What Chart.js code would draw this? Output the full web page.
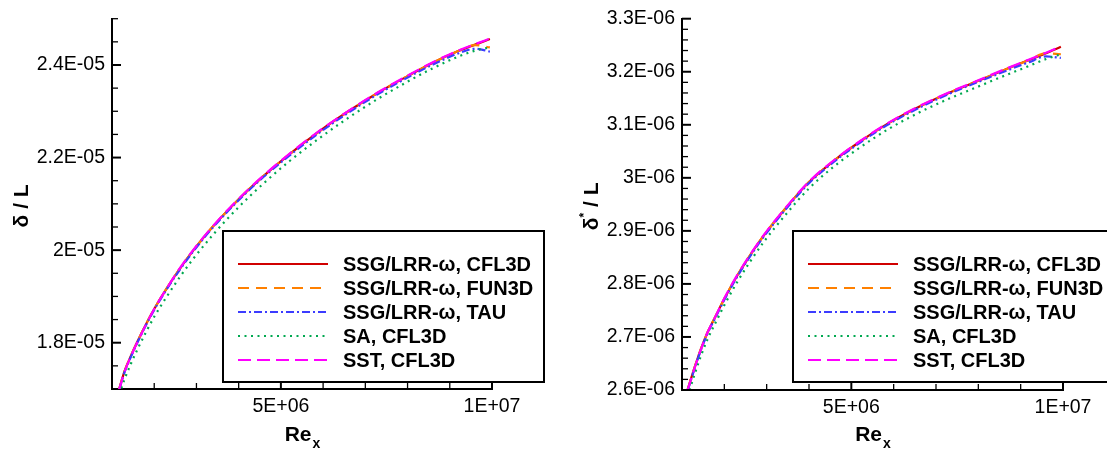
<!DOCTYPE html>
<html>
<head>
<meta charset="utf-8">
<script src="https://cdn.jsdelivr.net/npm/chart.js@4.4.1/dist/chart.umd.min.js"></script>
<style>
html, body { margin: 0; padding: 0; background: #fff; }
#wrap { position: relative; width: 1107px; height: 449px; overflow: hidden; }
canvas { position: absolute; top: 0; }
#deltaChart { left: 0; }
#dispChart { left: 553px; }
</style>
</head>
<body>
<div id="wrap">
    <canvas id="deltaChart" width="553" height="449"></canvas>
    <canvas id="dispChart" width="554" height="449"></canvas>
</div>
<script>
// Re_x stations
var reLeft  = [1.17e6, 1.3e6, 1.45e6, 1.6e6, 1.8e6, 2.0e6, 2.3e6, 2.6e6, 2.93e6, 3.4e6, 4.0e6, 4.6e6, 5.2e6, 5.9e6, 6.6e6, 7.3e6, 8.0e6, 8.6e6, 9.2e6, 9.6e6, 9.95e6];
var reRight = [1.13e6, 1.3e6, 1.45e6, 1.6e6, 1.8e6, 2.0e6, 2.3e6, 2.6e6, 2.93e6, 3.4e6, 4.0e6, 4.6e6, 5.2e6, 5.9e6, 6.6e6, 7.3e6, 8.0e6, 8.6e6, 9.2e6, 9.6e6, 9.95e6];

// delta / L
var deltaSsgCfl3d = [1.700e-5, 1.739e-5, 1.772e-5, 1.802e-5, 1.839e-5, 1.873e-5, 1.918e-5, 1.959e-5, 2.000e-5, 2.052e-5, 2.110e-5, 2.161e-5, 2.207e-5, 2.256e-5, 2.300e-5, 2.340e-5, 2.376e-5, 2.405e-5, 2.430e-5, 2.444e-5, 2.456e-5];
var deltaSsgFun3d = [1.700e-5, 1.739e-5, 1.772e-5, 1.802e-5, 1.839e-5, 1.873e-5, 1.918e-5, 1.959e-5, 2.000e-5, 2.052e-5, 2.110e-5, 2.161e-5, 2.207e-5, 2.256e-5, 2.300e-5, 2.340e-5, 2.376e-5, 2.405e-5, 2.430e-5, 2.443e-5, 2.438e-5];
var deltaSsgTau   = [1.698e-5, 1.737e-5, 1.770e-5, 1.800e-5, 1.837e-5, 1.871e-5, 1.916e-5, 1.957e-5, 1.998e-5, 2.050e-5, 2.108e-5, 2.159e-5, 2.204e-5, 2.253e-5, 2.297e-5, 2.337e-5, 2.373e-5, 2.401e-5, 2.425e-5, 2.435e-5, 2.429e-5];
var deltaSaCfl3d  = [1.688e-5, 1.722e-5, 1.755e-5, 1.785e-5, 1.822e-5, 1.856e-5, 1.900e-5, 1.941e-5, 1.982e-5, 2.034e-5, 2.093e-5, 2.145e-5, 2.192e-5, 2.241e-5, 2.286e-5, 2.327e-5, 2.364e-5, 2.393e-5, 2.418e-5, 2.431e-5, 2.438e-5];
var deltaSstCfl3d = [1.699e-5, 1.738e-5, 1.771e-5, 1.801e-5, 1.838e-5, 1.873e-5, 1.918e-5, 1.960e-5, 2.001e-5, 2.053e-5, 2.111e-5, 2.162e-5, 2.208e-5, 2.257e-5, 2.301e-5, 2.341e-5, 2.377e-5, 2.406e-5, 2.431e-5, 2.445e-5, 2.457e-5];

// delta* / L
var dispSsgCfl3d = [2.600e-6, 2.643e-6, 2.678e-6, 2.708e-6, 2.740e-6, 2.772e-6, 2.815e-6, 2.853e-6, 2.891e-6, 2.938e-6, 2.992e-6, 3.033e-6, 3.068e-6, 3.104e-6, 3.134e-6, 3.160e-6, 3.183e-6, 3.203e-6, 3.222e-6, 3.235e-6, 3.247e-6];
var dispSsgFun3d = [2.600e-6, 2.643e-6, 2.678e-6, 2.708e-6, 2.740e-6, 2.772e-6, 2.815e-6, 2.853e-6, 2.891e-6, 2.938e-6, 2.992e-6, 3.033e-6, 3.068e-6, 3.104e-6, 3.134e-6, 3.160e-6, 3.183e-6, 3.203e-6, 3.222e-6, 3.235e-6, 3.233e-6];
var dispSsgTau   = [2.598e-6, 2.641e-6, 2.676e-6, 2.706e-6, 2.738e-6, 2.770e-6, 2.813e-6, 2.851e-6, 2.889e-6, 2.936e-6, 2.990e-6, 3.031e-6, 3.066e-6, 3.102e-6, 3.132e-6, 3.158e-6, 3.181e-6, 3.200e-6, 3.218e-6, 3.229e-6, 3.226e-6];
var dispSaCfl3d  = [2.588e-6, 2.630e-6, 2.665e-6, 2.695e-6, 2.728e-6, 2.760e-6, 2.803e-6, 2.841e-6, 2.879e-6, 2.926e-6, 2.980e-6, 3.022e-6, 3.057e-6, 3.093e-6, 3.123e-6, 3.149e-6, 3.172e-6, 3.192e-6, 3.211e-6, 3.224e-6, 3.233e-6];
var dispSstCfl3d = [2.599e-6, 2.642e-6, 2.677e-6, 2.708e-6, 2.740e-6, 2.773e-6, 2.816e-6, 2.854e-6, 2.892e-6, 2.939e-6, 2.993e-6, 3.034e-6, 3.069e-6, 3.105e-6, 3.135e-6, 3.161e-6, 3.184e-6, 3.204e-6, 3.223e-6, 3.236e-6, 3.248e-6];

var seriesNames = ['SSG/LRR-\u03c9, CFL3D', 'SSG/LRR-\u03c9, FUN3D', 'SSG/LRR-\u03c9, TAU', 'SA, CFL3D', 'SST, CFL3D'];

var fontFamily = '"Liberation Sans", Arial, Helvetica, sans-serif';

var seriesStyle = [
    {color: '#d00000', dash: []},
    {color: '#ff8000', dash: [11, 7]},
    {color: '#3c3cff', dash: [8, 3, 2, 3]},
    {color: '#00a850', dash: [2, 4.5]},
    {color: '#ff00ff', dash: [13, 6]}
];

// Tecplot style labels: 2.4E-05, 1E+07
var sciLabel = function(v) {
    var e = Math.floor(Math.log10(Math.abs(v)) + 1e-9);
    var m = Math.round(v / Math.pow(10, e) * 1000) / 1000;
    if (m >= 10) { m = m / 10; e++; }
    var ea = Math.abs(e);
    return m + 'E' + (e < 0 ? '-' : '+') + (ea < 10 ? '0' + ea : ea);
};

var makeDatasets = function(xs, series) {
    return series.map(function(ys, k) {
        return {
            label: seriesNames[k],
            data: xs.map(function(x, i) { return {x: x, y: ys[i]}; }),
            borderColor: seriesStyle[k].color,
            borderDash: seriesStyle[k].dash,
            borderWidth: 2.2,
            pointRadius: 0,
            fill: false,
            cubicInterpolationMode: 'monotone',
            order: 5 - k
        };
    });
};

// inward tick marks, longer on labelled ticks
var innerTicks = {
    id: 'innerTicks',
    afterDraw: function(chart) {
        var ctx = chart.ctx, area = chart.chartArea;
        var sx = chart.scales.x, sy = chart.scales.y;
        ctx.save();
        ctx.strokeStyle = '#000';
        sx.ticks.forEach(function(t) {
            var p = sx.getPixelForValue(t.value);
            var major = t.label !== '';
            ctx.lineWidth = major ? 2 : 1.3;
            ctx.beginPath();
            ctx.moveTo(p, area.bottom);
            ctx.lineTo(p, area.bottom - (major ? 9 : 6));
            ctx.stroke();
        });
        sy.ticks.forEach(function(t) {
            var p = sy.getPixelForValue(t.value);
            var major = t.label !== '';
            ctx.lineWidth = major ? 2 : 1.3;
            ctx.beginPath();
            ctx.moveTo(area.left, p);
            ctx.lineTo(area.left + (major ? 9 : 6), p);
            ctx.stroke();
        });
        ctx.restore();
    }
};

// axis titles with sub/superscripts
var axisTitles = {
    id: 'axisTitles',
    afterDraw: function(chart, args, opts) {
        var ctx = chart.ctx, area = chart.chartArea;
        ctx.save();
        ctx.fillStyle = '#000';
        ctx.textBaseline = 'alphabetic';
        // x title: Re with subscript x
        ctx.font = 'bold 21px ' + fontFamily;
        var wRe = ctx.measureText('Re').width;
        ctx.font = 'bold 14px ' + fontFamily;
        var wX = ctx.measureText('x').width;
        var x0 = (area.left + area.right) / 2 - (wRe + wX) / 2;
        ctx.font = 'bold 21px ' + fontFamily;
        ctx.textAlign = 'left';
        ctx.fillText('Re', x0, 441);
        ctx.font = 'bold 14px ' + fontFamily;
        ctx.fillText('x', x0 + wRe + 1, 448);
        // y title, rotated
        ctx.translate(opts.yTitleX, (area.top + area.bottom) / 2 + 2);
        ctx.rotate(-Math.PI / 2);
        ctx.font = 'bold 21px ' + fontFamily;
        var wD = ctx.measureText('\u03b4').width;
        var wRest = ctx.measureText(' / L').width;
        ctx.font = 'bold 12px ' + fontFamily;
        var wS = opts.star ? ctx.measureText('*').width : 0;
        var start = -(wD + wS + wRest) / 2;
        ctx.font = 'bold 21px ' + fontFamily;
        ctx.fillText('\u03b4', start, 8);
        if (opts.star) {
            ctx.font = 'bold 12px ' + fontFamily;
            ctx.fillText('*', start + wD, -2);
        }
        ctx.font = 'bold 21px ' + fontFamily;
        ctx.fillText(' / L', start + wD + wS, 8);
        ctx.restore();
    }
};

// boxed legend inside the plot
var boxLegend = {
    id: 'boxLegend',
    afterDraw: function(chart) {
        var ctx = chart.ctx, area = chart.chartArea;
        var left = area.left + 111, top = 231, w = 321, h = 151;
        ctx.save();
        ctx.fillStyle = '#fff';
        ctx.fillRect(left, top, w, h);
        ctx.strokeStyle = '#000';
        ctx.lineWidth = 2;
        ctx.strokeRect(left, top, w, h);
        ctx.font = 'bold 20px ' + fontFamily;
        ctx.textBaseline = 'middle';
        ctx.textAlign = 'left';
        chart.data.datasets.forEach(function(ds, i) {
            var y = top + 33 + i * 24;
            ctx.strokeStyle = ds.borderColor;
            ctx.lineWidth = 2;
            ctx.setLineDash(ds.borderDash);
            ctx.beginPath();
            ctx.moveTo(left + 15, y);
            ctx.lineTo(left + 105, y);
            ctx.stroke();
            ctx.setLineDash([]);
            ctx.fillStyle = '#000';
            ctx.fillText(ds.label, left + 120, y + 1);
        });
        ctx.restore();
    }
};

var makeChart = function(canvasId, xs, series, yMin, yMax, yStep, yEvery, pad, yWidth, xHeight, titleOpts) {
    return new Chart(document.getElementById(canvasId), {
        type: 'line',
        data: {datasets: makeDatasets(xs, series)},
        plugins: [innerTicks, boxLegend, axisTitles],
        options: {
            responsive: false,
            animation: false,
            devicePixelRatio: 1,
            layout: {padding: pad},
            plugins: {
                legend: {display: false},
                tooltip: {enabled: false},
                axisTitles: titleOpts
            },
            scales: {
                x: {
                    type: 'linear',
                    min: 1e6,
                    max: 1e7,
                    afterFit: function(s) { s.height = xHeight; },
                    grid: {display: false, drawTicks: false},
                    border: {display: true, color: '#000', width: 2},
                    ticks: {
                        stepSize: 1e6,
                        autoSkip: false,
                        maxRotation: 0,
                        padding: 6,
                        color: '#000',
                        font: {family: fontFamily, size: 19.5},
                        callback: function(v) {
                            var n = Math.round(v / 1e6);
                            return n % 5 === 0 ? sciLabel(n * 1e6) : '';
                        }
                    }
                },
                y: {
                    type: 'linear',
                    min: yMin,
                    max: yMax,
                    afterFit: function(s) { s.width = yWidth; },
                    grid: {display: false, drawTicks: false},
                    border: {display: true, color: '#000', width: 2},
                    ticks: {
                        stepSize: yStep,
                        maxTicksLimit: 200,
                        autoSkip: false,
                        padding: 7,
                        color: '#000',
                        font: {family: fontFamily, size: 19.5},
                        callback: function(v) {
                            var n = Math.round(v / yStep);
                            return n % yEvery === 0 ? sciLabel(n * yStep) : '';
                        }
                    }
                }
            }
        }
    });
};

makeChart('deltaChart', reLeft,
    [deltaSsgCfl3d, deltaSsgFun3d, deltaSsgTau, deltaSaCfl3d, deltaSstCfl3d],
    1.7e-5, 2.5e-5, 5e-7, 4,
    {left: 0, top: 16, right: 61, bottom: 0}, 112, 60,
    {yTitleX: 20, star: false});

makeChart('dispChart', reRight,
    [dispSsgCfl3d, dispSsgFun3d, dispSsgTau, dispSaCfl3d, dispSstCfl3d],
    2.6e-6, 3.3e-6, 2e-8, 5,
    {left: 0, top: 17, right: 44, bottom: 0}, 129, 59,
    {yTitleX: 37, star: true});
</script>
</body>
</html>
